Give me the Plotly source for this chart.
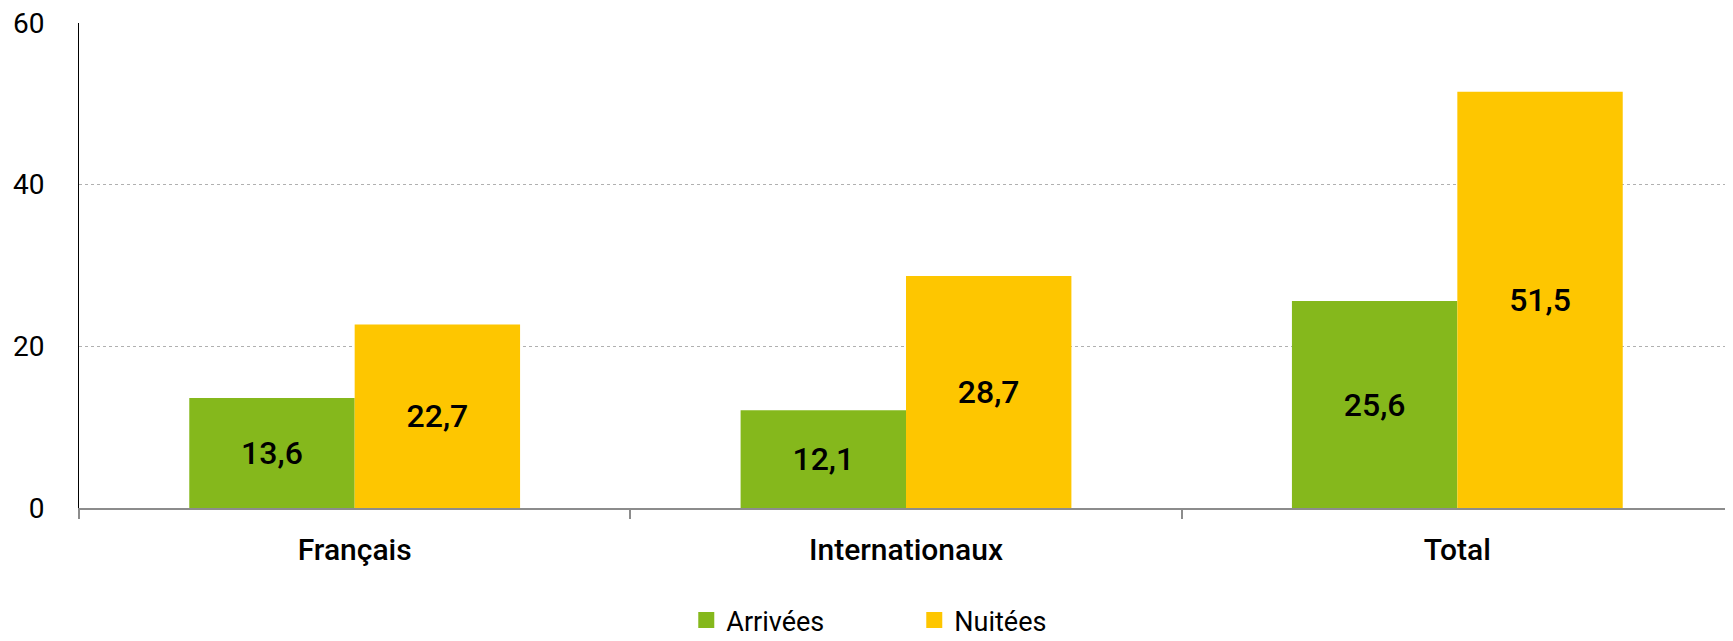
import plotly.graph_objects as go

categories = ["Français", "Internationaux", "Total"]
arrivees = [13.6, 12.1, 25.6]
nuitees = [22.7, 28.7, 51.5]
arrivees_labels = ["13,6", "12,1", "25,6"]
nuitees_labels = ["22,7", "28,7", "51,5"]
series_names = ["Arrivées", "Nuitées"]
y_ticks = [0, 20, 40, 60]

FONT = "Roboto"
GREEN = "#85B81C"
YELLOW = "#FEC600"
label_font = dict(family=FONT, size=32, color="black", weight=500)

fig = go.Figure()
for name, vals, labels, col in [
    (series_names[0], arrivees, arrivees_labels, GREEN),
    (series_names[1], nuitees, nuitees_labels, YELLOW),
]:
    fig.add_trace(go.Bar(
        x=categories, y=vals, name=name, marker_color=col,
        marker_line_width=0, text=labels, textposition="inside",
        insidetextanchor="middle", textangle=0, textfont=label_font,
        showlegend=False,
    ))

# legend-only entries with larger square swatches
for name, col in [(series_names[0], GREEN), (series_names[1], YELLOW)]:
    fig.add_trace(go.Scatter(
        x=[None], y=[None], mode="markers", name=name,
        marker=dict(symbol="square", size=19, color=col),
        showlegend=True,
    ))

# page body has an 8px default margin, so the figure is sized to fit the window
fig.update_layout(
    width=1725, height=633,
    margin=dict(l=71, r=0, t=15, b=133, autoexpand=False),
    paper_bgcolor="white", plot_bgcolor="white",
    barmode="group", bargap=0.4, bargroupgap=0,
    font=dict(family=FONT, size=26, color="black"),
    showlegend=True,
    legend=dict(
        orientation="h", x=0.505, xanchor="center", y=-0.232, yanchor="middle",
        font=dict(family=FONT, size=27, color="black"),
        entrywidth=183, entrywidthmode="pixels",
    ),
)
fig.update_xaxes(
    automargin=False,
    showline=True, linecolor="#8c8c8c", linewidth=2,
    ticks="outside", tickson="boundaries", ticklen=9, tickcolor="#8c8c8c", tickwidth=2,
    ticklabelstandoff=14,
    tickfont=dict(family=FONT, size=30, color="black", weight=500),
    showgrid=False, zeroline=False,
)
fig.update_yaxes(
    automargin=False, ticklabeloverflow="allow",
    range=[0, 60], tickvals=y_ticks, ticktext=[str(v) for v in y_ticks],
    showline=True, linecolor="black", linewidth=1,
    showgrid=True, gridcolor="#b0b0b0", griddash="dot", gridwidth=1,
    zeroline=False, ticks="", ticklabelstandoff=28,
    tickfont=dict(family=FONT, size=28, color="black"),
)

fig.write_html("out.html")
